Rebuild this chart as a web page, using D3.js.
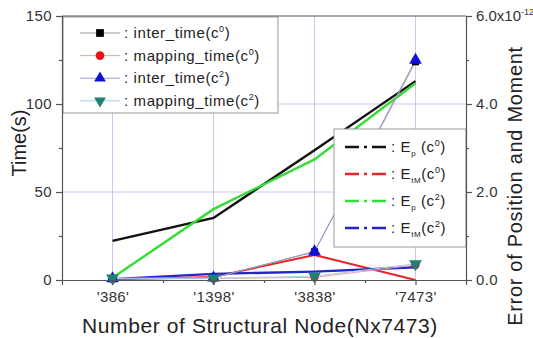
<!DOCTYPE html>
<html>
<head>
<meta charset="utf-8">
<script src="https://d3js.org/d3.v7.min.js"></script>
<style>
    body { margin: 0; background: #fff; }
    svg text { font-family: "Liberation Sans", Arial, sans-serif; fill: #222; }
    .grid line { stroke: #c8c8f0; stroke-width: 1; }
    .axis path, .axis line { stroke: #555; stroke-width: 1.2; }
    .axis text { font-size: 15px; fill: #333; letter-spacing: 0.4px; }
</style>
</head>
<body>
<div id="chart"></div>
<script>

var categories = ["'386'", "'1398'", "'3838'", "'7473'"];

// time series (left axis, seconds)
var interTimeC0   = [0.8, 1.2, 16, 124];
var mappingTimeC0 = [0.6, 0.8, 1.5, 8.5];
var interTimeC2   = [0.8, 1.2, 16.2, 125];
var mappingTimeC2 = [1.0, 1.0, 2.2, 9.2];

// error series (right axis, x10^-12)
var epC0  = [0.89, 1.41, 2.95, 4.52];
var etmC0 = [0.01, 0.07, 0.57, 0.0];
var epC2  = [0.05, 1.61, 2.74, 4.47];
var etmC2 = [0.02, 0.14, 0.19, 0.29];

var leftTicks = [0, 50, 100, 150],
    leftMinor = [25, 75, 125],
    rightTicks = [0, 2, 4, 6],
    rightMinor = [1, 3, 5];

var width = 533, height = 338;
var m = {left: 62, right: 466, top: 16, bottom: 280};

var svg = d3.select("#chart").append("svg")
    .attr("width", width)
    .attr("height", height);

var x = d3.scaleLinear().domain([0.5, 4.5]).range([m.left, m.right]);
var yL = d3.scaleLinear().domain([0, 150]).range([m.bottom, m.top]);
var yR = d3.scaleLinear().domain([0, 6]).range([m.bottom, m.top]);
var idx = [1, 2, 3, 4];

// grid
var grid = svg.append("g").attr("class", "grid");
grid.selectAll("line.v").data(idx).enter().append("line")
    .attr("x1", d => x(d)).attr("x2", d => x(d))
    .attr("y1", m.top).attr("y2", m.bottom);
grid.selectAll("line.h").data([50, 100]).enter().append("line")
    .attr("x1", m.left).attr("x2", m.right)
    .attr("y1", d => yL(d)).attr("y2", d => yL(d));

// error lines
var errSeries = [
    {vals: epC0,  color: "#111111", w: 2.4},
    {vals: epC2,  color: "#33dd33", w: 2.4},
    {vals: etmC0, color: "#e8262a", w: 2},
    {vals: etmC2, color: "#2424c8", w: 2.4}
];
var errLine = d3.line().x((d, i) => x(i + 1)).y(d => yR(d));
svg.selectAll("path.err").data(errSeries).enter().append("path")
    .attr("class", "err")
    .attr("d", d => errLine(d.vals))
    .attr("fill", "none")
    .attr("stroke", d => d.color)
    .attr("stroke-width", d => d.w);

// time series with markers
var timeSeries = [
    {name: "inter_time", sup: "0", vals: interTimeC0, color: "#000000", line: "#9a9a9a", sym: d3.symbolSquare, size: 50},
    {name: "mapping_time", sup: "0", vals: mappingTimeC0, color: "#ee1111", line: "#f0a0a0", sym: d3.symbolCircle, size: 55},
    {name: "inter_time", sup: "2", vals: interTimeC2, color: "#1010dd", line: "#9a9ac8", sym: d3.symbolTriangle, size: 70},
    {name: "mapping_time", sup: "2", vals: mappingTimeC2, color: "#1f7f72", line: "#a8d0e8", sym: "down", size: 70}
];
var timeLine = d3.line().x((d, i) => x(i + 1)).y(d => yL(d));

function marker(sel, s, size) {
    var sym = s.sym === "down" ? d3.symbolTriangle : s.sym;
    sel.attr("d", d3.symbol().type(sym).size(size)())
        .attr("fill", s.color);
}

timeSeries.forEach(function(s) {
    svg.append("path")
        .attr("d", timeLine(s.vals))
        .attr("fill", "none")
        .attr("stroke", s.line)
        .attr("stroke-width", 1);
});
timeSeries.forEach(function(s) {
    svg.selectAll(null).data(s.vals).enter().append("path")
        .call(marker, s, s.size)
        .attr("transform", (d, i) => "translate(" + x(i + 1) + "," + yL(d) + ")" + (s.sym === "down" ? " rotate(180)" : ""));
});

// legend 1 (time)
var lg1 = svg.append("g");
lg1.append("rect").attr("x", m.left + 1).attr("y", m.top + 1)
    .attr("width", 215).attr("height", 96)
    .attr("fill", "#fff").attr("stroke", "#999").attr("stroke-width", 1);
timeSeries.forEach(function(s, i) {
    var yy = 33 + i * 22.6;
    lg1.append("line").attr("x1", 80).attr("x2", 120).attr("y1", yy).attr("y2", yy)
        .attr("stroke", s.line).attr("stroke-width", 1);
    lg1.append("path").call(marker, s, 60)
        .attr("transform", "translate(100," + yy + ")" + (s.sym === "down" ? " rotate(180)" : ""));
    var t = lg1.append("text").attr("x", 124).attr("y", yy + 5)
        .style("font-size", "15px").style("letter-spacing", "0.6px");
    t.append("tspan").text(": " + s.name + "(c");
    t.append("tspan").attr("dy", -6).style("font-size", "9px").text(s.sup);
    t.append("tspan").attr("dy", 6).text(")");
});

// legend 2 (error)
var errLegend = [
    {sub: "p", sup: "0", color: "#111111"},
    {sub: "tM", sup: "0", color: "#e8262a"},
    {sub: "p", sup: "2", color: "#33dd33"},
    {sub: "tM", sup: "2", color: "#2424c8"}
];
var lg2 = svg.append("g");
lg2.append("rect").attr("x", 334).attr("y", 129)
    .attr("width", m.right - 334).attr("height", 118)
    .attr("fill", "#fff").attr("stroke", "#999").attr("stroke-width", 1);
errLegend.forEach(function(e, i) {
    var yy = 147 + i * 27;
    lg2.append("line").attr("x1", 345).attr("x2", 386).attr("y1", yy).attr("y2", yy)
        .attr("stroke", e.color).attr("stroke-width", 2.4)
        .attr("stroke-dasharray", "14,5,3,5");
    var t = lg2.append("text").attr("x", 391).attr("y", yy + 5)
        .style("font-size", "15px").style("letter-spacing", "0.6px");
    t.append("tspan").text(": E");
    t.append("tspan").attr("dy", 4).style("font-size", "8px").text(e.sub);
    t.append("tspan").attr("dy", -4).text(e.sub === "p" ? " (c" : "(c");
    t.append("tspan").attr("dy", -6).style("font-size", "9px").text(e.sup);
    t.append("tspan").attr("dy", 6).text(")");
});

// axes
svg.append("line").attr("class", "frame")
    .attr("x1", m.left).attr("x2", m.right).attr("y1", m.top).attr("y2", m.top)
    .attr("stroke", "#555").attr("stroke-width", 1.2);

svg.append("g").attr("class", "axis")
    .attr("transform", "translate(" + m.left + ",0)")
    .call(d3.axisLeft(yL).tickValues(leftTicks).tickSize(6).tickPadding(4));
svg.append("g").attr("class", "axis")
    .attr("transform", "translate(" + m.left + ",0)")
    .call(d3.axisLeft(yL).tickValues(leftMinor).tickSize(3).tickFormat(""))
    .select(".domain").remove();

var rAxis = svg.append("g").attr("class", "axis")
    .attr("transform", "translate(" + m.right + ",0)")
    .call(d3.axisRight(yR).tickValues(rightTicks).tickSize(6).tickPadding(4)
        .tickFormat(d => d3.format(".1f")(d)));
rAxis.selectAll(".tick text").filter(d => d === 6)
    .style("letter-spacing", "0px")
    .text("6.0x10")
    .append("tspan").attr("dy", -6).style("font-size", "9px").text("-12");
svg.append("g").attr("class", "axis")
    .attr("transform", "translate(" + m.right + ",0)")
    .call(d3.axisRight(yR).tickValues(rightMinor).tickSize(3).tickFormat(""))
    .select(".domain").remove();

svg.append("g").attr("class", "axis")
    .attr("transform", "translate(0," + m.bottom + ")")
    .call(d3.axisBottom(x).tickValues(idx).tickSize(5).tickPadding(6)
        .tickFormat(d => categories[d - 1]));
svg.append("g").attr("class", "axis")
    .attr("transform", "translate(0," + m.bottom + ")")
    .call(d3.axisBottom(x).tickValues([1.5, 2.5, 3.5]).tickSize(3).tickFormat(""))
    .select(".domain").remove();

// titles
svg.append("text")
    .attr("transform", "translate(26,143) rotate(-90)")
    .attr("text-anchor", "middle")
    .style("font-size", "20px")
    .text("Time(s)");
svg.append("text")
    .attr("transform", "translate(522,186) rotate(-90)")
    .attr("text-anchor", "middle")
    .style("font-size", "20px").style("letter-spacing", "0.7px")
    .text("Error of Position and Moment");
svg.append("text")
    .attr("x", 260).attr("y", 333)
    .attr("text-anchor", "middle")
    .style("font-size", "21px").style("letter-spacing", "0.6px")
    .text("Number of Structural Node(Nx7473)");

</script>
</body>
</html>
